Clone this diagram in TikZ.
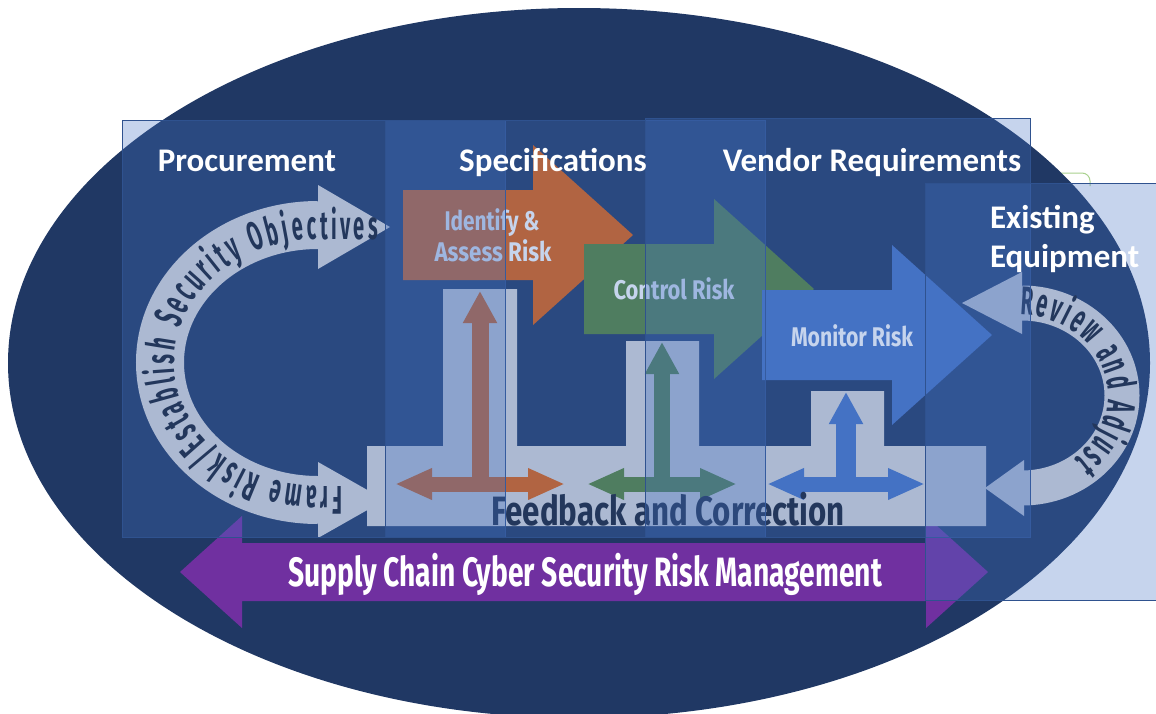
\documentclass[tikz,border=0pt]{standalone}
\usepackage{fontspec}
\usepackage{graphicx}
\setmainfont{Carlito}
\newfontfamily\agency[FakeStretch=0.7]{Fira Sans}
\newfontfamily\agencyarc[FakeStretch=0.5]{Fira Sans}
\usetikzlibrary{arrows.meta,decorations.text}
\definecolor{navy}{HTML}{203864}
\definecolor{colblue}{HTML}{4472C4}
\definecolor{colline}{HTML}{2F528F}
\definecolor{riskorange}{RGB}{225,95,10}
\definecolor{riskgreen}{HTML}{548235}
\definecolor{riskblue}{HTML}{4472C4}
\definecolor{fbgrey}{HTML}{D9D9D9}
\definecolor{scpurple}{HTML}{7030A0}
\definecolor{inkdark}{HTML}{161E30}
\definecolor{lgreen}{HTML}{A9D18E}
\tikzset{every node/.style={inner sep=0pt,outer sep=0pt}}

\begin{document}
\begin{tikzpicture}[x=1pt,y=-1pt]

\clip (0,0) rectangle (1156,713);
\fill[white] (0,0) rectangle (1156,713);

\tikzstyle{col}=[fill=colblue,fill opacity=0.3,draw=colline,line width=1pt]
\tikzstyle{title}=[white,anchor=base,font=\bfseries\fontsize{33}{36}\selectfont]
\tikzstyle{lab}=[white,anchor=base,font=\agency\bfseries\fontsize{27}{30}\selectfont]
\tikzstyle{biglab}=[anchor=base,font=\agency\bfseries\fontsize{41}{44}\selectfont]
\tikzstyle{band}=[fbgrey,line cap=butt]

% corner of a shape behind the oval
\draw[lgreen,line width=1pt] (1040,173) -- (1082,173) arc[start angle=-90,end angle=0,radius=8] -- (1090,186);

% oval
\fill[navy] (579,363) ellipse[x radius=571,y radius=355];

% supply chain arrow
\fill[scpurple] (180,572) -- (242,516) -- (242,543) -- (926,543) -- (926,516)
  -- (988,572) -- (926,628) -- (926,601) -- (242,601) -- (242,628) -- cycle;
\node[biglab,white] (scrm) at (585,586) {\resizebox{594pt}{\height}{Supply Chain Cyber Security Risk Management}};

% feedback and correction
\fill[fbgrey] (367,526) -- (367,446) -- (443,446) -- (443,289) -- (517,289) -- (517,446)
  -- (626,446) -- (626,341) -- (699,341) -- (699,446) -- (811,446) -- (811,391)
  -- (884,391) -- (884,446) -- (986,446) -- (986,526) -- cycle;
\foreach \a/\b/\t/\c/\w in {395/565/291/riskorange/17,587/737/342/riskgreen/16,767/925/392/riskblue/20} {
  \draw[\c,line width=15pt,{Triangle[length=37pt,width=29pt]}-{Triangle[length=37pt,width=29pt]}] (\a,484) -- (\b,484);
  \draw[\c,line width=\w pt,-{Triangle[length=32pt,width=32pt]}] ({(\a+\b)/2},492) -- ({(\a+\b)/2},\t);
}
\node[biglab,inkdark] (fbc) at (668,525) {\resizebox{353pt}{\height}{Feedback and Correction}};

% risk arrows
\foreach \x/\y/\c in {403/235/riskorange,584/289/riskgreen,762/335/riskblue}
  \fill[\c,shift={(\x,\y)}] (0,-45) -- (130,-45) -- (130,-90) -- (230,0) -- (130,90) -- (130,45) -- (0,45) -- cycle;
\node[lab] (ident) at (492,230) {\resizebox{95pt}{\height}{Identify \&}};
\node[lab] (assess) at (493,261) {\resizebox{117pt}{\height}{Assess Risk}};
\node[lab] (control) at (674,299) {\resizebox{121pt}{\height}{Control Risk}};
\node[lab] (monitor) at (852,346) {\resizebox{122pt}{\height}{Monitor Risk}};

% frame risk loop
\draw[band,line width=48pt] (318,225) arc[start angle=270,end angle=90,x radius=158,y radius=137.5];
\fill[fbgrey] (318,185) -- (390,227) -- (318,269) -- cycle;
\fill[fbgrey] (318,462) -- (385,500) -- (318,538) -- cycle;
\path[decorate,decoration={text along path,text align=fit to path,
  text={|\agencyarc\bfseries\fontsize{40}{40}\selectfont\color{inkdark}|Frame Risk/Establish Security Objectives}}]
  (342,486) -- (318,486) arc[start angle=90,end angle=270,x radius=144,y radius=123.5] -- (378,239);

% review loop
\draw[band,line width=35pt] (1022,303) arc[start angle=-90,end angle=90,x radius=100,y radius=92.5];
\fill[fbgrey] (1022,272) -- (962,303) -- (1022,334) -- cycle;
\fill[fbgrey] (1024,460) -- (985,488) -- (1024,516) -- cycle;
\path[decorate,decoration={text along path,text align=fit to path,
  text={|\agencyarc\bfseries\fontsize{40}{40}\selectfont\color{inkdark}|Review and Adjust}}]
  (1020,315) arc[start angle=-90,end angle=52,x radius=88,y radius=80.5];

% columns
\foreach \a/\b/\c/\d in {122/120/505/537,385/120/765/537,645/118/1030/537,925/183/1170/600}
  \draw[col] (\a,\b) rectangle (\c,\d);

\node[title] (proc) at (247,171) {Procurement};
\node[title] (spec) at (553,171) {Specifications};
\node[title] (vend) at (872,171) {Vendor Requirements};
\node[title,anchor=base west] (exist) at (990,228) {Existing};
\node[title,anchor=base west] (equip) at (990,267) {Equipment};

\end{tikzpicture}
\end{document}
